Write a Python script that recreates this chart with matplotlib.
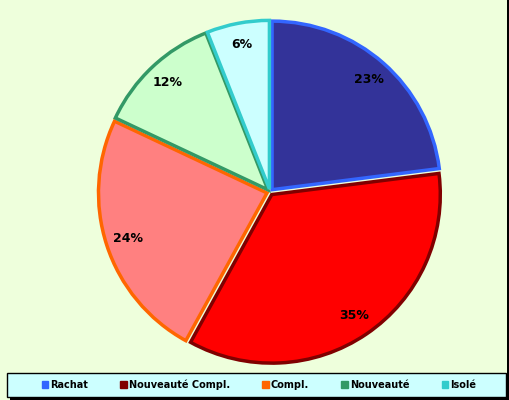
import matplotlib
matplotlib.use("Agg")
import matplotlib.pyplot as plt
from matplotlib.patches import Patch, Rectangle

labels = ["Rachat", "Nouveauté Compl.", "Compl.", "Nouveauté", "Isolé"]
values = [23, 35, 24, 12, 6]
face_colors = ["#333399", "#ff0000", "#ff8080", "#ccffcc", "#ccffff"]
edge_colors = ["#3366ff", "#800000", "#ff6600", "#339966", "#33cccc"]
bg = "#eeffdc"

fig = plt.figure(figsize=(5.1, 4.0), dpi=100, facecolor=bg)

# pie centre ~ (270,192) px, radius ~172 px
cx, cy, r = 270, 192, 172
ax = fig.add_axes([(cx - r) / 510, (400 - cy - r) / 400, 2 * r / 510, 2 * r / 400])
ax.set_facecolor(bg)
wedges, texts, autotexts = ax.pie(
    values, colors=face_colors, startangle=90, counterclock=False,
    explode=[0.018] * len(values), radius=0.98,
    autopct="%d%%", pctdistance=0.87,
    wedgeprops=dict(linewidth=2.5),
    textprops=dict(fontsize=9, fontweight="bold", color="black"))
for w, ec in zip(wedges, edge_colors):
    w.set_edgecolor(ec)
ax.set_xlim(-1, 1)
ax.set_ylim(-1, 1)
ax.axis("off")

# legend box with shadow
fig.patches.append(Rectangle((10 / 510, 0 / 400), 500 / 510, 24 / 400,
                             transform=fig.transFigure, facecolor="black",
                             zorder=1))
fig.patches.append(Rectangle((7 / 510, 3 / 400), 499 / 510, 24 / 400,
                             transform=fig.transFigure, facecolor="#ccffff",
                             edgecolor="black", linewidth=1.0, zorder=2))

handles = [Patch(facecolor=ec, edgecolor=ec, linewidth=1.0)
           for fc, ec in zip(face_colors, edge_colors)]
leg = fig.legend(handles, labels, ncol=5, loc="center",
                 bbox_to_anchor=(259 / 510, 15 / 400),
                 frameon=False, columnspacing=3.3,
                 handlelength=0.7, handleheight=0.7, handletextpad=0.2,
                 borderaxespad=0, borderpad=0,
                 prop=dict(size=7, weight="bold"))
leg.set_zorder(3)

# right border line
fig.patches.append(Rectangle((507 / 510, 0), 3 / 510, 1,
                             transform=fig.transFigure, facecolor="black",
                             zorder=1))

fig.savefig("out.png", dpi=100, facecolor=bg)
